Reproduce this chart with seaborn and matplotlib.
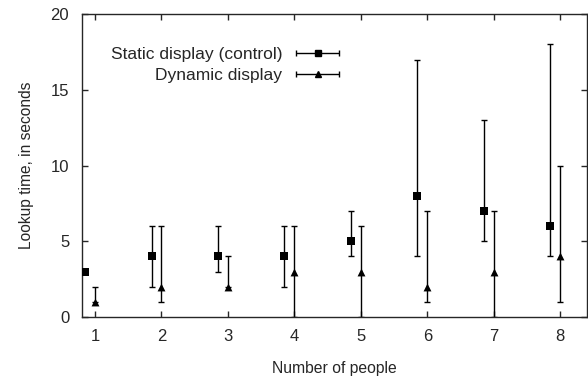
import numpy as np
import pandas as pd
import matplotlib
matplotlib.use('Agg')
import matplotlib.pyplot as plt
import seaborn as sns
from matplotlib.legend_handler import HandlerErrorbar

people = [1, 2, 3, 4, 5, 6, 7, 8]

static_mean = [3, 4, 4, 4, 5, 8, 7, 6]
static_low = [3, 2, 3, 2, 4, 4, 5, 4]
static_high = [3, 6, 6, 6, 7, 17, 13, 18]

dynamic_mean = [1, 2, 2, 3, 3, 2, 3, 4]
dynamic_low = [1, 1, 2, 0, 0, 1, 0, 1]
dynamic_high = [2, 6, 4, 6, 6, 7, 7, 10]

sns.set_style('ticks')
plt.rcParams['font.family'] = ['Liberation Sans', 'DejaVu Sans']

df = pd.DataFrame({
    'people': people * 2,
    'x': [p - 0.15 for p in people] + people,
    'mean': static_mean + dynamic_mean,
    'low': static_low + dynamic_low,
    'high': static_high + dynamic_high,
    'group': ['Static display (control)'] * 8 + ['Dynamic display'] * 8,
})

fig = plt.figure(figsize=(5.88, 3.81), dpi=100)
ax = fig.add_axes([0.139, 0.168, 0.859, 0.795])

markers = {'Static display (control)': 's', 'Dynamic display': '^'}
handles = []
for name, sub in df.groupby('group', sort=False):
    yerr = np.vstack([sub['mean'] - sub['low'], sub['high'] - sub['mean']])
    ax.errorbar(sub['x'], sub['mean'], yerr=yerr, fmt='none', ecolor='black',
                elinewidth=1, capsize=2.3, capthick=1)
    sns.scatterplot(x=sub['x'], y=sub['mean'], marker=markers[name], color='black',
                    s=32, edgecolor='black', linewidth=0, ax=ax, legend=False,
                    zorder=3, clip_on=True)
    # legend-only handle, placed off the visible range
    h = ax.errorbar([-10], [-10], xerr=[1], fmt=markers[name], color='black',
                    markersize=5, elinewidth=1, capsize=2.3, capthick=1, label=name)
    handles.append(h)

ax.set_xlim(0.8, 8.4)
ax.set_ylim(0, 20)
ax.set_xticks(people)
ax.set_yticks([0, 5, 10, 15, 20])
ax.tick_params(direction='in', top=True, right=True, length=4, width=1,
               labelsize=12, pad=9)
for s in ax.spines.values():
    s.set_linewidth(1)
    s.set_visible(True)
ax.set_xlabel('Number of people', fontsize=11.3, labelpad=12)
ax.set_ylabel('Lookup time, in seconds', fontsize=11.2, labelpad=12)

leg = ax.legend(handles=handles, loc='upper right', bbox_to_anchor=(0.51, 0.892),
                frameon=False, markerfirst=False, fontsize=12.5, handlelength=2.5,
                handletextpad=0.8, labelspacing=0.35, borderaxespad=0, borderpad=0,
                handler_map={type(handles[0]): HandlerErrorbar(xerr_size=1.25)})
for t in leg.get_texts():
    t.set_ha('right')
leg._legend_box.align = 'right'

fig.savefig('out.png', dpi=100)
